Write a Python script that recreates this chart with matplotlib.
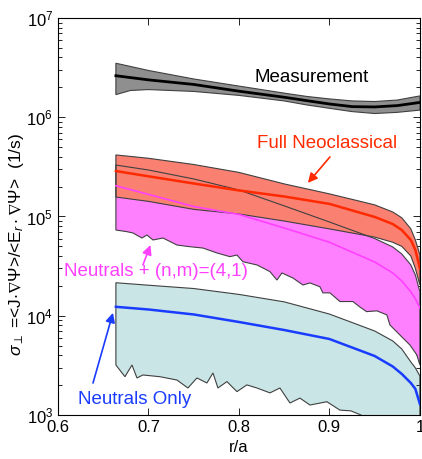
import numpy as np
import matplotlib
matplotlib.use("Agg")
import matplotlib.pyplot as plt

plt.rcParams['font.family'] = ['Liberation Sans', 'DejaVu Sans']
plt.rcParams['mathtext.fontset'] = 'custom'
plt.rcParams['mathtext.rm'] = 'Liberation Sans'
plt.rcParams['mathtext.it'] = 'Liberation Sans:italic'
plt.rcParams['mathtext.fallback'] = 'stixsans'

# measurement band
r_meas = [0.664, 0.68, 0.70, 0.75, 0.80, 0.85, 0.875, 0.90, 0.925, 0.95, 0.975, 1.0]
meas_mid = [2.62e6, 2.51e6, 2.38e6, 2.14e6, 1.83e6, 1.59e6, 1.47e6, 1.36e6, 1.28e6, 1.27e6, 1.31e6, 1.41e6]
meas_hi = [3.50e6, 3.25e6, 2.96e6, 2.43e6, 2.06e6, 1.75e6, 1.62e6, 1.53e6, 1.46e6, 1.44e6, 1.49e6, 1.64e6]
meas_lo = [1.69e6, 1.86e6, 1.90e6, 1.82e6, 1.66e6, 1.46e6, 1.33e6, 1.23e6, 1.14e6, 1.09e6, 1.12e6, 1.18e6]

# common grid for the model curves
r_mod = [0.664, 0.70, 0.75, 0.80, 0.85, 0.90, 0.95, 0.97, 0.98, 0.99, 0.995, 1.0]

# full neoclassical
neo_mid = [2.87e5, 2.54e5, 2.15e5, 1.83e5, 1.59e5, 1.34e5, 9.9e4, 8.4e4, 7.3e4, 5.8e4, 4.6e4, 3.0e4]
neo_hi = [4.17e5, 3.86e5, 3.34e5, 2.78e5, 2.13e5, 1.69e5, 1.31e5, 1.11e5, 9.7e4, 7.5e4, 5.8e4, 4.1e4]
neo_lo = [1.57e5, 1.42e5, 1.18e5, 1.06e5, 9.0e4, 7.5e4, 6.2e4, 5.5e4, 5.0e4, 4.0e4, 3.0e4, 2.04e4]

# neutrals + (n,m)=(4,1)
nm_mid = [2.04e5, 1.67e5, 1.26e5, 1.05e5, 7.66e4, 5.5e4, 3.48e4, 2.70e4, 2.24e4, 1.74e4, 1.48e4, 1.20e4]
nm_hi = [3.30e5, 2.94e5, 2.39e5, 1.85e5, 1.28e5, 8.8e4, 6.0e4, 4.93e4, 4.19e4, 3.25e4, 2.57e4, 1.74e4]
r_nm_lo = [0.664, 0.6762, 0.6829, 0.6928, 0.6983, 0.705, 0.716, 0.7315, 0.7459, 0.7602,
           0.7757, 0.790, 0.7978, 0.8044, 0.8199, 0.8287, 0.8343, 0.842, 0.8475, 0.8597,
           0.8707, 0.8785, 0.8895, 0.8928, 0.9006, 0.9116, 0.926, 0.9334, 0.9411, 0.9525,
           0.9635, 0.9669, 0.9779, 0.989, 0.9967, 1.0]
nm_lo = [7.31e4, 7.03e4, 6.82e4, 6.07e4, 6.51e4, 5.80e4, 6.07e4, 5.16e4, 4.96e4, 4.81e4,
         4.29e4, 3.94e4, 4.09e4, 3.50e4, 3.25e4, 2.96e4, 2.78e4, 2.29e4, 2.70e4, 2.40e4,
         2.04e4, 2.14e4, 1.96e4, 1.70e4, 1.70e4, 1.39e4, 1.39e4, 1.23e4, 1.10e4, 1.12e4,
         1.02e4, 8.07e3, 6.40e3, 5.07e3, 4.02e3, 3.19e3]

# neutrals only
neu_mid = [1.23e4, 1.156e4, 1.03e4, 8.65e3, 7.18e3, 5.83e3, 3.93e3, 3.08e3, 2.59e3, 2.10e3, 1.83e3, 1.29e3]
neu_hi = [2.15e4, 2.03e4, 1.88e4, 1.64e4, 1.38e4, 1.04e4, 7.02e3, 5.57e3, 4.62e3, 3.42e3, 2.98e3, 2.47e3]
r_neu_lo = [0.664, 0.674, 0.6818, 0.6873, 0.6939, 0.7127, 0.7315, 0.7436, 0.7536, 0.7646,
            0.7713, 0.7768, 0.7867, 0.7978, 0.8088, 0.8199, 0.8343, 0.8453, 0.8564, 0.8674,
            0.8785, 0.8972, 0.9116, 0.9238, 0.9348, 0.9503, 1.0]
neu_lo = [3.19e3, 2.43e3, 3.19e3, 2.36e3, 2.53e3, 2.43e3, 2.25e3, 1.87e3, 2.36e3, 2.10e3,
          2.65e3, 1.87e3, 2.17e3, 1.72e3, 2.01e3, 1.87e3, 1.67e3, 1.87e3, 1.32e3, 1.48e3,
          1.26e3, 1.36e3, 1.12e3, 1.10e3, 1.0e3, 7.9e2, 5.6e2]

edge = '#404040'
red = '#ff2a00'
pink = '#ff40ff'
blue = '#1a3cff'

fig = plt.figure(figsize=(4.22, 4.59), dpi=100)
ax = fig.add_axes([0.1374, 0.0959, 0.8576, 0.8649])


def band(x_hi, hi, x_lo, lo, color, z):
    px = list(x_hi) + list(x_lo)[::-1]
    py = list(hi) + list(lo)[::-1]
    ax.fill(px, py, facecolor=color, edgecolor='none', zorder=z)
    ax.fill(px, py, facecolor='none', edgecolor=edge, lw=0.8, zorder=6)


band(r_mod, neu_hi, r_neu_lo, neu_lo, '#c9e5e5', 1)
band(r_mod, nm_hi, r_nm_lo, nm_lo, '#ff80ff', 2)
band(r_mod, neo_hi, r_mod, neo_lo, '#fa8072', 3)
band(r_meas, meas_hi, r_meas, meas_lo, '#8f8f8f', 4)

ax.plot(r_meas, meas_mid, color='black', lw=2, zorder=7)
ax.plot(r_mod, neo_mid, color=red, lw=1.8, zorder=7)
ax.plot(r_mod, nm_mid, color=pink, lw=1.2, zorder=7)
ax.plot(r_mod, neu_mid, color=blue, lw=1.8, zorder=7)

ax.set_yscale('log')
ax.set_xlim(0.6, 1.0)
ax.set_ylim(1e3, 1e7)
ax.set_xticks([0.6, 0.7, 0.8, 0.9, 1.0])
ax.set_xticklabels(['0.6', '0.7', '0.8', '0.9', '1'])
ax.tick_params(which='both', direction='in', top=True, right=True, labelsize=12, width=0.6)
ax.tick_params(which='major', length=5)
ax.tick_params(which='minor', length=3)
for s in ax.spines.values():
    s.set_linewidth(0.8)

ax.set_xlabel('r/a', fontsize=12, labelpad=4)
ax.set_ylabel(r'$\sigma_{\perp}$ =<J$\cdot\nabla\Psi$>/<E$_r\cdot\nabla\Psi$>  (1/s)', fontsize=12.5)
ax.yaxis.set_label_coords(-0.088, 0.43)

fs = 13.5
ax.text(0.8807, 2.49e6, 'Measurement', color='black', fontsize=fs, ha='center', va='center', zorder=8)
ax.text(0.8972, 5.38e5, 'Full Neoclassical', color=red, fontsize=fs, ha='center', va='center', zorder=8)
ax.text(0.7088, 2.79e4, 'Neutrals + (n,m)=(4,1)', color=pink, fontsize=fs, ha='center', va='center', zorder=8)
ax.text(0.6851, 1.42e3, 'Neutrals Only', color=blue, fontsize=fs, ha='center', va='center', zorder=8)


def arrow(tail, head, color):
    ax.annotate('', xy=head, xytext=tail, zorder=8,
                arrowprops=dict(arrowstyle='-|>', color=color, lw=1.2, mutation_scale=14,
                                shrinkA=0, shrinkB=0))


arrow((0.9006, 3.98e5), (0.8762, 2.18e5), red)
arrow((0.6939, 3.25e4), (0.7022, 5.16e4), pink)
arrow((0.6387, 2.10e3), (0.6608, 1.07e4), blue)

fig.savefig('out.png', dpi=100)
